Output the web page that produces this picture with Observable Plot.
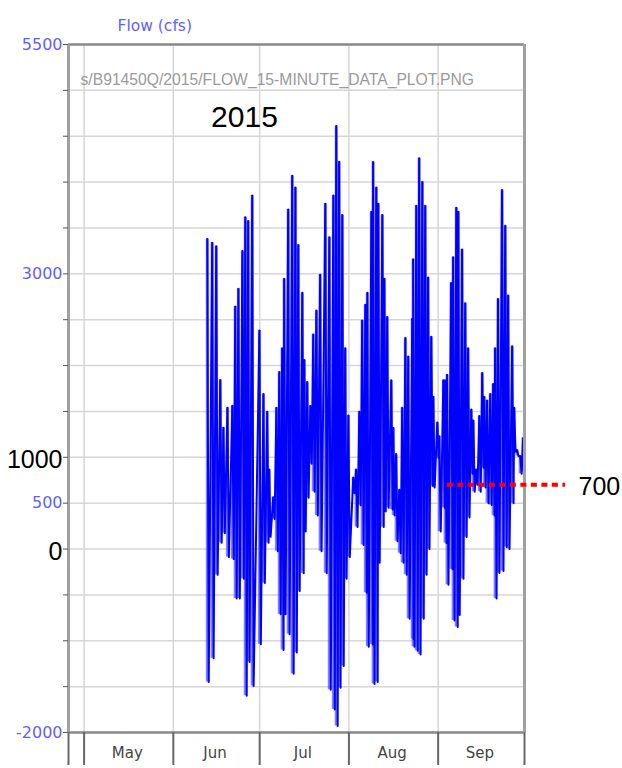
<!DOCTYPE html>
<html><head><meta charset="utf-8">
<script src="https://cdn.jsdelivr.net/npm/d3@7"></script>
<script src="https://cdn.jsdelivr.net/npm/@observablehq/plot@0.6"></script>
<style>
html,body{margin:0;padding:0;background:#fff}
#chart svg{display:block}
</style>
</head><body><div id="chart"></div>
<script>
// Sample times: days after 2015-06-01 00:00 (UTC), one tidal swing each
const dayOffset = [11.8,13.5,14.9,16.3,17.4,18.8,20.5,21.5,22.6,24.0,
  25.0,26.0,27.4,29.9,31.3,32.6,33.3,34.7,35.8,36.8,
  37.8,38.5,39.9,41.3,42.4,43.4,44.8,45.5,46.5,47.6,
  48.6,49.7,51.0,52.8,54.2,55.6,56.6,57.6,58.7,59.7,
  60.8,62.5,63.5,64.6,65.6,66.7,67.4,68.8,69.4,70.5,
  71.2,72.6,73.3,74.3,75.7,76.4,77.4,78.5,79.5,80.6,
  81.6,83.0,83.3,84.4,85.4,86.5,87.5,88.5,89.6,90.3,
  91.7,92.4,93.8,94.4,95.1,96.5,97.2,98.3,99.0,100.3,
  101.4,102.4,103.5,104.2,105.2,106.3,107.3,108.0,109.0,110.1,
  111.1,111.8,112.8,114.2,115.3,116.3,117.7,118.4,119.4,120.5,
  121.5];
const flowHigh = [3379,3340,3300,1842,1323,1540,1562,2643,2838,3250,
  3617,3575,3855,2383,1690,1497,868,565,1540,1930,
  2190,2946,3700,4070,3940,3314,2795,2060,1820,1560,
  2340,2600,2990,3765,3400,3855,4612,4222,3640,2190,
  1455,780,868,1497,2490,2664,2795,3677,4220,3940,
  3765,3640,2946,2530,1840,1320,1035,645,1540,2300,
  2100,2510,3160,3742,4260,4000,3742,2960,2313,1660,
  1380,1230,1840,1840,1900,2900,3180,3720,3677,3265,
  2680,2190,1520,1400,868,1450,1920,1660,1620,1690,
  1800,2190,2725,3915,3525,2765,2210,1540,1080,1015,
  1210];
const flowLow = [-1450,-1190,-280,68,172,-88,-110,-540,-540,-325,
  -1600,-1232,-1492,-1037,-370,68,133,328,-23,-712,
  -1100,-712,-930,-1360,-1127,-458,-263,190,558,930,
  625,365,-23,-263,-1535,-1750,-1930,-1513,-1275,-325,
  -88,607,240,478,45,-476,-1064,-1040,-1470,-1450,
  -150,240,410,450,430,365,85,-45,-150,-280,
  -760,-980,-1064,-1110,-1150,-760,-280,0,690,670,
  993,190,450,65,-390,-220,-780,-850,-720,-325,
  130,345,820,625,700,625,885,670,500,480,
  365,-540,-260,-240,22,0,500,1060,1015,820,
  840];

const months = ["May","Jun","Jul","Aug","Sep"];
const monthStarts = ["2015-05-01","2015-06-01","2015-07-01","2015-08-01","2015-09-01"];
const monthMids = ["2015-05-16T00:00Z","2015-06-15T12:00Z","2015-07-16T00:00Z","2015-08-16T00:00Z","2015-09-15T12:00Z"];
const xStart = "2015-04-25T14:00Z", xEnd = "2015-10-01T00:00Z";
const yTicks = d3.range(-2000, 5501, 500);
const yLabels = [5500, 3000, 500, -2000];
const leftNotes = [{v: 1000, label: "1000"}, {v: 0, label: "0"}];
const refValue = 700, refFrom = "2015-09-04T05:00Z", refTo = "2015-10-15T06:00Z";
const yearLabel = {date: "2015-06-25T17:00Z", v: 4700, text: "2015"};
const pathText = "s/B91450Q/2015/FLOW_15-MINUTE_DATA_PLOT.PNG";

const base = Date.UTC(2015, 5, 1);
const toDate = d => new Date(base + d * 864e5);
const swings = dayOffset.map((d, i) => ({t: toDate(d), t2: toDate(d + 0.5), hi: flowHigh[i], lo: flowLow[i]}));
const zig = swings.flatMap(s => [{t: s.t, v: s.hi}, {t: s.t2, v: s.lo}]);

const mids = monthMids.map(s => new Date(s));
const starts = monthStarts.map(s => new Date(s + "T00:00Z"));
const dom = [new Date(xStart), new Date(xEnd)];

const chart = Plot.plot({
  width: 622, height: 768,
  marginLeft: 68, marginRight: 98, marginTop: 44, marginBottom: 36,
  style: {fontFamily: "Liberation Sans, Arial, sans-serif", background: "#fff"},
  x: {type: "utc", domain: dom, axis: null, label: null},
  y: {domain: [-2000, 5500], axis: null, label: null},
  marks: [
    Plot.ruleY(yTicks, {stroke: "#d6d6d6", strokeWidth: 1.5}),
    Plot.ruleX(starts, {stroke: "#d6d6d6", strokeWidth: 1.5}),
    Plot.text([pathText], {frameAnchor: "top-left", dx: 12, dy: 29, textAnchor: "start", fill: "#9a9a9a", fontSize: 15.7}),
    Plot.ruleX(swings, {x: "t", y1: "lo", y2: "hi", stroke: "#4a4aff", strokeWidth: 3, strokeOpacity: 0.7}),
    Plot.line(zig, {x: "t", y: "v", stroke: "#0000ff", strokeWidth: 2}),
    Plot.ruleY([5500, -2000], {stroke: "#8a8a8a", strokeWidth: 2.5}),
    Plot.ruleX(dom, {stroke: "#a0a0a0", strokeWidth: 3}),
    Plot.axisY(yTicks, {anchor: "left", tickSize: 5, tickFormat: () => "", stroke: "#555", label: null}),
    Plot.axisY(yLabels, {anchor: "left", tickSize: 0, tickPadding: 6, tickFormat: d => String(d), fill: "#5f5fff", fontSize: 16, fontFamily: "DejaVu Sans, sans-serif", label: null}),
    Plot.axisX([dom[0], ...starts, dom[1]], {anchor: "bottom", tickSize: 33, tickFormat: () => "", stroke: "#666", strokeWidth: 2, label: null}),
    Plot.text(months, {x: (d, i) => mids[i], frameAnchor: "bottom", dy: 25, fill: "#444", fontSize: 15, fontFamily: "DejaVu Sans, sans-serif"}),
    Plot.text(leftNotes, {x: () => dom[0], y: "v", text: "label", textAnchor: "end", dx: -6, dy: 3, fontSize: 25, fill: "#000"}),
    Plot.text([yearLabel], {x: d => new Date(d.date), y: "v", text: "text", fontSize: 30, fill: "#000"}),
    Plot.ruleY([refValue], {x1: () => new Date(refFrom), x2: () => new Date(refTo), stroke: "#ff0000", strokeWidth: 4, strokeDasharray: "6,4.5"}),
    Plot.text([String(refValue)], {x: () => new Date(refTo), y: () => refValue, textAnchor: "start", dx: 13, dy: 2, fontSize: 25, fill: "#000"}),
    Plot.text(["Flow (cfs)"], {frameAnchor: "top-left", dx: 49, dy: -25, textAnchor: "start", fill: "#5f5fff", fontSize: 15.5, fontFamily: "DejaVu Sans, sans-serif"})
  ]
});
document.getElementById("chart").appendChild(chart);
</script>
</body></html>
